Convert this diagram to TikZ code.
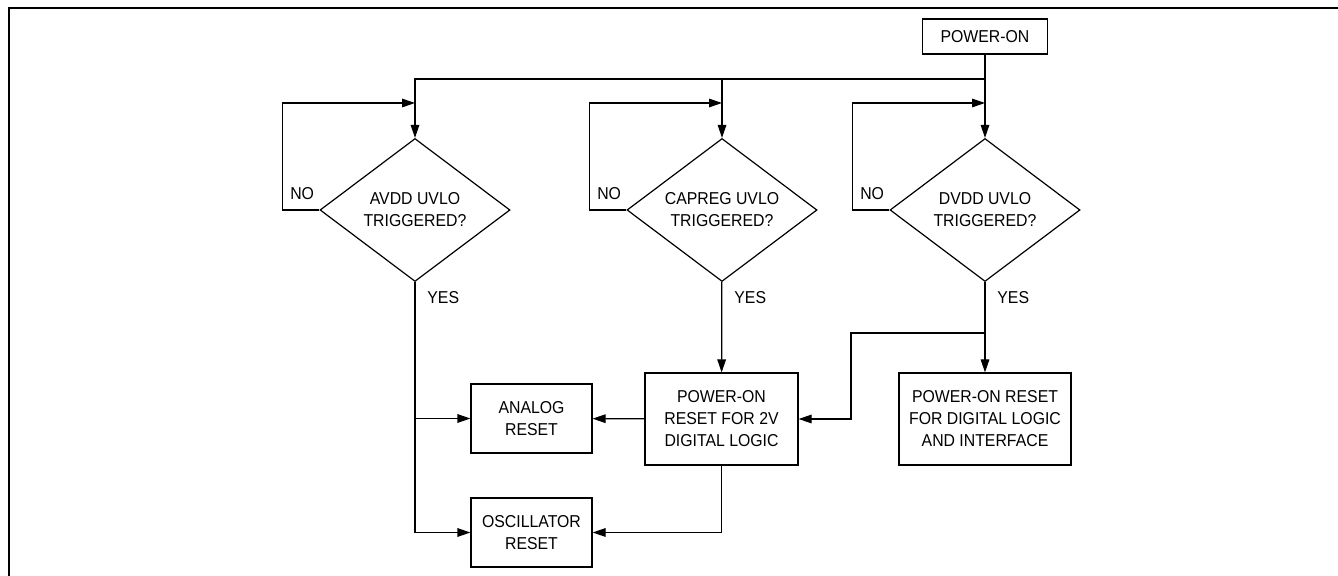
\documentclass[tikz,border=0pt]{standalone}
\usepackage{fontspec}
\setmainfont{Liberation Sans}[FakeStretch=0.92]
\usepackage{tikz}
\usetikzlibrary{positioning,arrows.meta,shapes.geometric}

\tikzset{
  blk/.style={draw, line width=0.6pt, inner sep=0pt, align=center, font=\fontsize{8.6}{11}\selectfont},
  test/.style={diamond, draw, line width=0.6pt, aspect=1.33, minimum width=95pt, minimum height=71.5pt, inner sep=0pt, align=center, font=\fontsize{8.6}{11}\selectfont},
  lbl/.style={inner sep=0pt, font=\fontsize{8.6}{11}\selectfont},
  flow/.style={line width=0.6pt}
}

\begin{document}
\begin{tikzpicture}[x=0.5pt, y=-0.5pt, >={Triangle[length=6.5pt,width=4.3pt]}]
    \useasboundingbox (0,0) rectangle (1338,576);
    % frame
    \draw[line width=1pt] (8.5,576) -- (8.5,8.5) -- (1338,8.5);

    % start
    \node[blk, minimum width=62.5pt, minimum height=17.5pt] (power) at (985,36.5) {POWER-ON};
    \coordinate (bus) at (985,79);

    % UVLO checks
    \node[test] (avdd) at (415,210) {AVDD UVLO\\TRIGGERED?};
    \node[test] (capreg) at (722,210) {CAPREG UVLO\\TRIGGERED?};
    \node[test] (dvdd) at (985,210) {DVDD UVLO\\TRIGGERED?};
    \coordinate (inA) at (415,103);
    \coordinate (inC) at (722,103);
    \coordinate (inD) at (985,103);

    % resets
    \node[blk, minimum width=60.5pt, minimum height=34.5pt] (analog) at (531.5,418.5) {ANALOG\\RESET};
    \node[blk, minimum width=60.5pt, minimum height=34.5pt] (osc) at (531.5,532.5) {OSCILLATOR\\RESET};
    \node[blk, minimum width=76.5pt, minimum height=46pt] (por2v) at (721.5,419) {POWER-ON\\RESET FOR 2V\\DIGITAL LOGIC};
    \node[blk, minimum width=86pt, minimum height=46pt] (pordig) at (985,419) {POWER-ON RESET\\FOR DIGITAL LOGIC\\AND INTERFACE};
    \coordinate (split) at (985,333);

    % labels
    \node[lbl, above left=5pt and 2.5pt of avdd.west] (noA) {NO};
    \node[lbl, above left=5pt and 2.5pt of capreg.west] (noC) {NO};
    \node[lbl, above left=5pt and 2.5pt of dvdd.west] (noD) {NO};
    \node[lbl, below right=4.5pt and 6pt of avdd.south] (yesA) {YES};
    \node[lbl, below right=4.5pt and 6pt of capreg.south] (yesC) {YES};
    \node[lbl, below right=4.5pt and 6pt of dvdd.south] (yesD) {YES};

    % connectors
    \draw[flow, ->] (power) -- (dvdd);
    \draw[flow, ->] (bus) -| (avdd);
    \draw[flow, ->] (bus -| capreg) -- (capreg);
    \draw[flow, ->] (avdd.west) -- ++(-37,0) |- (inA);
    \draw[flow, ->] (capreg.west) -- ++(-37,0) |- (inC);
    \draw[flow, ->] (dvdd.west) -- ++(-37,0) |- (inD);
    \draw[flow, ->] (avdd.south) |- (osc.west);
    \draw[flow, ->] (avdd.south |- analog.west) -- (analog.west);
    \draw[flow, ->] (capreg) -- (por2v);
    \draw[flow, ->] (por2v) -- (analog);
    \draw[flow, ->] (por2v.south) |- (osc.east);
    \draw[flow, ->] (dvdd) -- (pordig);
    \draw[flow, ->] (split) -- ++(-134,0) |- (por2v.east);
\end{tikzpicture}
\end{document}
